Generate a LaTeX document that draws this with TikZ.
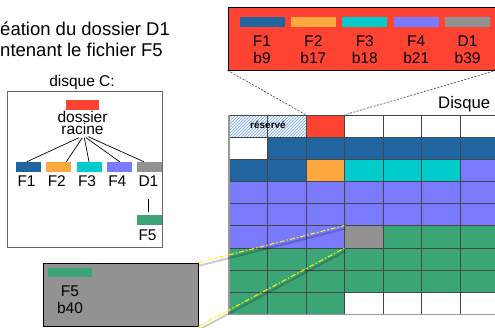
\documentclass[tikz,border=0pt]{standalone}
\usepackage{fontspec}
\setmainfont{Liberation Sans}
\usetikzlibrary{patterns}
\definecolor{rouge}{RGB}{255,67,51}
\definecolor{bleuF}{RGB}{33,101,160}
\definecolor{orangeF}{RGB}{255,168,64}
\definecolor{cyanF}{RGB}{0,204,204}
\definecolor{mauveF}{RGB}{122,122,255}
\definecolor{grisD}{RGB}{146,146,146}
\definecolor{vertF}{RGB}{59,165,118}
\definecolor{hachure}{RGB}{125,170,225}
\definecolor{trait}{RGB}{70,70,70}
\tikzstyle{barre}=[inner sep=0, minimum height=10pt]
\tikzstyle{txt}=[inner sep=0, font=\fontsize{15.5}{17}\selectfont]
\tikzstyle{case}=[draw=trait, line width=0.9pt]
\tikzstyle{hach}=[preaction={fill=hachure!12}, pattern=north east lines, pattern color=hachure]
\tikzstyle{bloc}=[inner sep=0, minimum width=38.5pt, minimum height=22.17pt]
\tikzstyle{branche}=[line width=0.7pt]
\tikzstyle{zoomfat}=[draw=black!75, line width=0.6pt, dash pattern=on 2pt off 1.5pt]
\tikzstyle{zoomd1}=[yellow, line width=1pt, dash pattern=on 5pt off 2pt on 1.5pt off 2pt,
  preaction={draw=black, opacity=.2, line width=2pt, transform canvas={xshift=1pt, yshift=-3pt}}]

\begin{document}
\begin{tikzpicture}[x=1pt, y=-1pt]
    \useasboundingbox (0,0) rectangle (495,327);
    \clip (0,0) rectangle (495,327);
    % titre
    \node[anchor=base west, inner sep=0, font=\fontsize{18.5}{21}\selectfont] (titre1) at (-19.5,35) {Création du dossier D1};
    \node[anchor=base west, inner sep=0, font=\fontsize{18.5}{21}\selectfont] (titre2) at (-19.5,56.7) {contenant le fichier F5};
    % arborescence
    \node[txt, anchor=base] (disqueC) at (82,86) {disque C:};
    \node[draw=black!60, line width=0.8pt, fill=white, minimum width=155pt, minimum height=156pt, inner sep=0] (arbre) at (84.5,169) {};
    \node[barre, fill=rouge, minimum width=33pt] (bRac) at (82.5,105) {};
    \node[txt, align=center, anchor=south, font=\fontsize{15.5}{12.3}\selectfont] (racine) at (82.5,135) {dossier\\racine};
    \foreach \nom/\coul [count=\i from 0] in {F1/bleuF, F2/orangeF, F3/cyanF, F4/mauveF, D1/grisD} {
        \node[barre, fill=\coul, minimum width=25pt] (b\nom) at (28.5+30.25*\i, 167) {};
        \node[txt, anchor=base west] (l\nom) at (17.3+30.25*\i, 186.7) {\nom};
    }
    \node[barre, fill=vertF, minimum width=25pt] (bF5) at (149.5,220) {};
    \node[txt, anchor=base west] (lF5) at (138.3,240) {F5};
    \draw[branche] ([xshift=-3.5pt, yshift=-2.7pt]racine.south) -- ([xshift=-1.8pt]bF1.north);
    \draw[branche] ([xshift=-0.2pt, yshift=-2.7pt]racine.south) -- ([xshift=7.5pt]bF2.north);
    \draw[branche] ([xshift=1.8pt, yshift=-2.7pt]racine.south) -- (bF3.north);
    \draw[branche] ([xshift=3.5pt, yshift=-2.7pt]racine.south) -- ([xshift=0.5pt]bF4.north);
    \draw[branche] ([xshift=5.8pt, yshift=-1.7pt]racine.south) -- ([xshift=-5.5pt]bD1.north);
    \draw[branche, shorten >=3pt] ([yshift=-12.3pt]lD1.south) -- (lD1.south |- bF5.north);
    % disque
    \node[anchor=base west, inner sep=0, font=\fontsize{16.7}{18}\selectfont] (disque) at (438,108.3) {Disque};
    \foreach \ligne [count=\r from 0] in {
        {white,white,rouge,white,white,white,white},
        {white,bleuF,bleuF,bleuF,bleuF,bleuF,bleuF},
        {bleuF,bleuF,orangeF,cyanF,cyanF,cyanF,mauveF},
        {mauveF,mauveF,mauveF,mauveF,mauveF,mauveF,mauveF},
        {mauveF,mauveF,mauveF,mauveF,mauveF,mauveF,mauveF},
        {mauveF,mauveF,mauveF,grisD,vertF,vertF,vertF},
        {vertF,vertF,vertF,vertF,vertF,vertF,vertF},
        {vertF,vertF,vertF,vertF,vertF,vertF,vertF},
        {vertF,vertF,vertF,white,white,white,white}}
        \foreach \coul [count=\c from 0] in \ligne
            \draw[case, fill=\coul] (229+38.5*\c, 115+22.17*\r) rectangle ++(38.5,22.17);
    \foreach \c in {0,1}
        \draw[case, hach] (229+38.5*\c, 115) rectangle ++(38.5,22.17);
    \draw[draw=black!40, line width=1.4pt] (229,115) -- (229,314.5) -- (498.5,314.5);
    \node[font=\bfseries\fontsize{10}{12}\selectfont, inner sep=0] (reserve) at (268,124.5) {réservé};
    \node[bloc] (blocR) at (325.25,126.08) {};
    \node[bloc] (blocD) at (363.75,236.9) {};
    % bloc du dossier racine
    \node[draw=black, line width=0.8pt, fill=rouge, minimum width=268pt, minimum height=63pt, inner sep=0] (fat) at (362,38.5) {};
    \foreach \nom/\blk/\coul [count=\i from 0] in {F1/b9/bleuF, F2/b17/orangeF, F3/b18/cyanF, F4/b21/mauveF, D1/b39/grisD} {
        \node[barre, fill=\coul, minimum width=45pt] (fb\i) at (262+51.4*\i, 22) {};
        \node[txt, anchor=base] (fn\i) at (262+51.4*\i, 46) {\nom};
        \node[txt, anchor=base] (fk\i) at (262+51.4*\i, 63.3) {\blk};
    }
    \draw[zoomfat] (fat.south west) -- (blocR.north west);
    \draw[zoomfat] (fat.south east) -- (blocR.north east);
    % bloc du dossier D1
    \node[draw=black, line width=0.8pt, fill=grisD, minimum width=155pt, minimum height=63pt, inner sep=0] (dossD1) at (120.5,294.5) {};
    \node[barre, fill=vertF, minimum width=44pt, minimum height=9pt] (vF5) at (70,272.5) {};
    \node[txt, anchor=base] (nF5) at (70,296.7) {F5};
    \node[txt, anchor=base] (kF5) at (70,313.3) {b40};
    \draw[zoomd1] (dossD1.north east) -- (blocD.north west);
    \draw[zoomd1] (dossD1.south east) -- (blocD.south west);
\end{tikzpicture}
\end{document}
